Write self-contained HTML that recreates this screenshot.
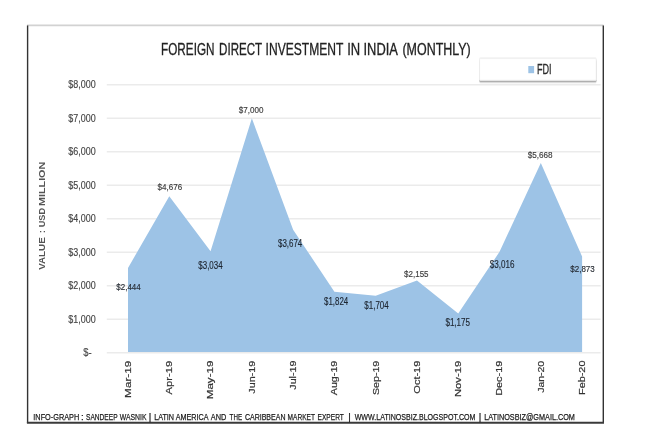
<!DOCTYPE html>
<html><head><meta charset="utf-8"><title>Foreign Direct Investment in India (Monthly)</title>
<style>
html,body{margin:0;padding:0;background:#fff;}
body{width:660px;height:440px;overflow:hidden;font-family:"Liberation Sans",sans-serif;}
svg{display:block;filter:blur(0.3px);}
text{font-family:"Liberation Sans",sans-serif;}
</style></head><body>
<svg width="660" height="440" viewBox="0 0 660 440">
<defs><filter id="sh" x="-10%" y="-40%" width="120%" height="200%"><feGaussianBlur in="SourceAlpha" stdDeviation="0.45 0.8"/><feOffset dx="0.2" dy="1.2"/><feComponentTransfer><feFuncA type="linear" slope="0.55"/></feComponentTransfer><feMerge><feMergeNode/><feMergeNode in="SourceGraphic"/></feMerge></filter></defs>
<rect x="0" y="0" width="660" height="440" fill="#fff"/>
<line x1="27" y1="25.4" x2="603.5" y2="25.4" stroke="#d2d2d2" stroke-width="1.8"/>
<line x1="27.6" y1="25.6" x2="27.6" y2="423" stroke="#333" stroke-width="1.4"/>
<line x1="603.3" y1="25.6" x2="603.3" y2="423" stroke="#333" stroke-width="1.4"/>
<line x1="26.9" y1="422.8" x2="604" y2="422.8" stroke="#3a3a3a" stroke-width="2"/>

<g stroke="#ebebeb" stroke-width="1.4">
<line x1="106.8" y1="352.80" x2="600.6" y2="352.80"/>
<line x1="106.8" y1="319.30" x2="600.6" y2="319.30"/>
<line x1="106.8" y1="285.80" x2="600.6" y2="285.80"/>
<line x1="106.8" y1="252.30" x2="600.6" y2="252.30"/>
<line x1="106.8" y1="218.80" x2="600.6" y2="218.80"/>
<line x1="106.8" y1="185.30" x2="600.6" y2="185.30"/>
<line x1="106.8" y1="151.80" x2="600.6" y2="151.80"/>
<line x1="106.8" y1="118.30" x2="600.6" y2="118.30"/>
<line x1="106.8" y1="84.80" x2="600.6" y2="84.80"/>
</g>
<polygon points="128.00,352.1 128.00,268.00 169.28,196.15 210.56,251.16 251.85,118.30 293.13,229.72 334.41,291.70 375.69,295.72 416.97,280.61 458.25,313.44 499.54,251.76 540.82,162.92 582.10,256.55 582.10,352.1" fill="#9dc3e6"/>
<g font-size="10.6" fill="#444" stroke="#444" stroke-width="0.15">
<text x="83.18" y="356.40" textLength="8.35" lengthAdjust="spacingAndGlyphs">$-</text>
<text x="68.24" y="322.90" textLength="27.41" lengthAdjust="spacingAndGlyphs">$1,000</text>
<text x="68.24" y="289.40" textLength="27.41" lengthAdjust="spacingAndGlyphs">$2,000</text>
<text x="68.24" y="255.90" textLength="27.41" lengthAdjust="spacingAndGlyphs">$3,000</text>
<text x="68.24" y="222.40" textLength="27.41" lengthAdjust="spacingAndGlyphs">$4,000</text>
<text x="68.24" y="188.90" textLength="27.41" lengthAdjust="spacingAndGlyphs">$5,000</text>
<text x="68.24" y="155.40" textLength="27.41" lengthAdjust="spacingAndGlyphs">$6,000</text>
<text x="68.24" y="121.90" textLength="27.41" lengthAdjust="spacingAndGlyphs">$7,000</text>
<text x="68.24" y="88.40" textLength="27.41" lengthAdjust="spacingAndGlyphs">$8,000</text>
</g>
<g fill="#222" stroke="#222" stroke-width="0.15">
<text x="116.36" y="289.90" font-size="9.8" fill="#262b33" stroke="#262b33" textLength="24.32" lengthAdjust="spacingAndGlyphs">$2,444</text>
<text x="157.50" y="190.40" font-size="9.4" fill="#3c3c3c" stroke="#3c3c3c" textLength="24.72" lengthAdjust="spacingAndGlyphs">$4,676</text>
<text x="198.35" y="268.80" font-size="10.2" fill="#1d2530" stroke="#1d2530" textLength="24.21" lengthAdjust="spacingAndGlyphs">$3,034</text>
<text x="238.77" y="112.70" font-size="9.4" fill="#3c3c3c" stroke="#3c3c3c" textLength="24.60" lengthAdjust="spacingAndGlyphs">$7,000</text>
<text x="278.02" y="246.60" font-size="10.2" fill="#1d2530" stroke="#1d2530" textLength="24.26" lengthAdjust="spacingAndGlyphs">$3,674</text>
<text x="324.02" y="305.30" font-size="10.2" fill="#1d2530" stroke="#1d2530" textLength="24.26" lengthAdjust="spacingAndGlyphs">$1,824</text>
<text x="364.36" y="309.40" font-size="10.2" fill="#1d2530" stroke="#1d2530" textLength="24.31" lengthAdjust="spacingAndGlyphs">$1,704</text>
<text x="404.11" y="277.10" font-size="9.4" fill="#3c3c3c" stroke="#3c3c3c" textLength="24.44" lengthAdjust="spacingAndGlyphs">$2,155</text>
<text x="445.40" y="326.10" font-size="10.2" fill="#1d2530" stroke="#1d2530" textLength="24.69" lengthAdjust="spacingAndGlyphs">$1,175</text>
<text x="489.67" y="267.80" font-size="10.2" fill="#1d2530" stroke="#1d2530" textLength="24.72" lengthAdjust="spacingAndGlyphs">$3,016</text>
<text x="527.65" y="158.30" font-size="9.4" fill="#3c3c3c" stroke="#3c3c3c" textLength="25.00" lengthAdjust="spacingAndGlyphs">$5,668</text>
<text x="570.32" y="272.40" font-size="9.8" fill="#262b33" stroke="#262b33" textLength="24.44" lengthAdjust="spacingAndGlyphs">$2,873</text>
</g>
<g font-size="9.7" fill="#333" stroke="#333" stroke-width="0.2">
<text transform="translate(130.70,497.00) rotate(-90)" x="99.13" textLength="37.12" lengthAdjust="spacingAndGlyphs">Mar-19</text>
<text transform="translate(172.00,494.40) rotate(-90)" x="99.94" textLength="33.60" lengthAdjust="spacingAndGlyphs">Apr-19</text>
<text transform="translate(213.30,498.40) rotate(-90)" x="99.19" textLength="38.62" lengthAdjust="spacingAndGlyphs">May-19</text>
<text transform="translate(254.60,493.30) rotate(-90)" x="99.64" textLength="32.83" lengthAdjust="spacingAndGlyphs">Jun-19</text>
<text transform="translate(295.90,489.30) rotate(-90)" x="99.64" textLength="29.03" lengthAdjust="spacingAndGlyphs">Jul-19</text>
<text transform="translate(337.20,495.20) rotate(-90)" x="99.98" textLength="34.55" lengthAdjust="spacingAndGlyphs">Aug-19</text>
<text transform="translate(378.50,494.40) rotate(-90)" x="99.38" textLength="34.29" lengthAdjust="spacingAndGlyphs">Sep-19</text>
<text transform="translate(419.80,493.30) rotate(-90)" x="99.64" textLength="33.02" lengthAdjust="spacingAndGlyphs">Oct-19</text>
<text transform="translate(461.10,496.30) rotate(-90)" x="99.32" textLength="36.15" lengthAdjust="spacingAndGlyphs">Nov-19</text>
<text transform="translate(502.40,495.20) rotate(-90)" x="99.35" textLength="35.10" lengthAdjust="spacingAndGlyphs">Dec-19</text>
<text transform="translate(543.70,492.50) rotate(-90)" x="99.65" textLength="32.07" lengthAdjust="spacingAndGlyphs">Jan-20</text>
<text transform="translate(585.00,494.30) rotate(-90)" x="99.35" textLength="34.39" lengthAdjust="spacingAndGlyphs">Feb-20</text>
</g>
<g font-size="15.7" fill="#222" stroke="#222" stroke-width="0.3">
<text x="161.02" y="54.7" textLength="53.49" lengthAdjust="spacingAndGlyphs">FOREIGN</text>
<text x="219.06" y="54.7" textLength="43.13" lengthAdjust="spacingAndGlyphs">DIRECT</text>
<text x="265.60" y="54.7" textLength="77.71" lengthAdjust="spacingAndGlyphs">INVESTMENT</text>
<text x="347.21" y="54.7" textLength="12.99" lengthAdjust="spacingAndGlyphs">IN</text>
<text x="363.52" y="54.7" textLength="34.36" lengthAdjust="spacingAndGlyphs">INDIA</text>
<text x="402.43" y="54.7" textLength="68.27" lengthAdjust="spacingAndGlyphs">(MONTHLY)</text>
</g>
<g font-size="8.2" font-weight="bold" fill="#555" transform="translate(45.0,369.6) rotate(-90)">
<text x="99.82" y="0" textLength="32.54" lengthAdjust="spacingAndGlyphs">VALUE</text>
<text x="142.24" y="0" textLength="19.46" lengthAdjust="spacingAndGlyphs">USD</text>
<text x="163.71" y="0" textLength="44.12" lengthAdjust="spacingAndGlyphs">MILLION</text>
<text x="138.1" y="0" text-anchor="middle">:</text>
</g>
<rect x="479.6" y="58.6" width="116.6" height="21.6" rx="0.6" fill="#fff" stroke="#f1f1f1" stroke-width="0.9" filter="url(#sh)"/>
<rect x="528.3" y="66" width="5.8" height="7.2" fill="#9dc3e6"/>
<text x="536.97" y="74.4" font-size="14" fill="#2a2a2a" stroke="#2a2a2a" stroke-width="0.3" textLength="14.64" lengthAdjust="spacingAndGlyphs">FDI</text>
<g font-size="9.7" fill="#1a1a1a" stroke="#1a1a1a" stroke-width="0.25">
<text x="33.34" y="419.75" textLength="45.89" lengthAdjust="spacingAndGlyphs">INFO-GRAPH</text>
<text x="85.97" y="419.75" textLength="31.61" lengthAdjust="spacingAndGlyphs">SANDEEP</text>
<text x="119.70" y="419.75" textLength="26.76" lengthAdjust="spacingAndGlyphs">WASNIK</text>
<text x="154.16" y="419.75" textLength="19.90" lengthAdjust="spacingAndGlyphs">LATIN</text>
<text x="175.68" y="419.75" textLength="33.01" lengthAdjust="spacingAndGlyphs">AMERICA</text>
<text x="210.81" y="419.75" textLength="15.60" lengthAdjust="spacingAndGlyphs">AND</text>
<text x="229.62" y="419.75" textLength="12.43" lengthAdjust="spacingAndGlyphs">THE</text>
<text x="244.90" y="419.75" textLength="40.63" lengthAdjust="spacingAndGlyphs">CARIBBEAN</text>
<text x="287.62" y="419.75" textLength="27.32" lengthAdjust="spacingAndGlyphs">MARKET</text>
<text x="317.62" y="419.75" textLength="26.16" lengthAdjust="spacingAndGlyphs">EXPERT</text>
<text x="354.71" y="419.75" textLength="120.72" lengthAdjust="spacingAndGlyphs">WWW.LATINOSBIZ.BLOGSPOT.COM</text>
<text x="484.16" y="419.75" textLength="90.76" lengthAdjust="spacingAndGlyphs">LATINOSBIZ@GMAIL.COM</text>
<text x="82.3" y="419.75" text-anchor="middle">:</text>
<text x="150.0" y="419.75" text-anchor="middle">|</text>
<text x="349.5" y="419.75" text-anchor="middle">|</text>
<text x="480.0" y="419.75" text-anchor="middle">|</text>
</g>
</svg></body></html>
